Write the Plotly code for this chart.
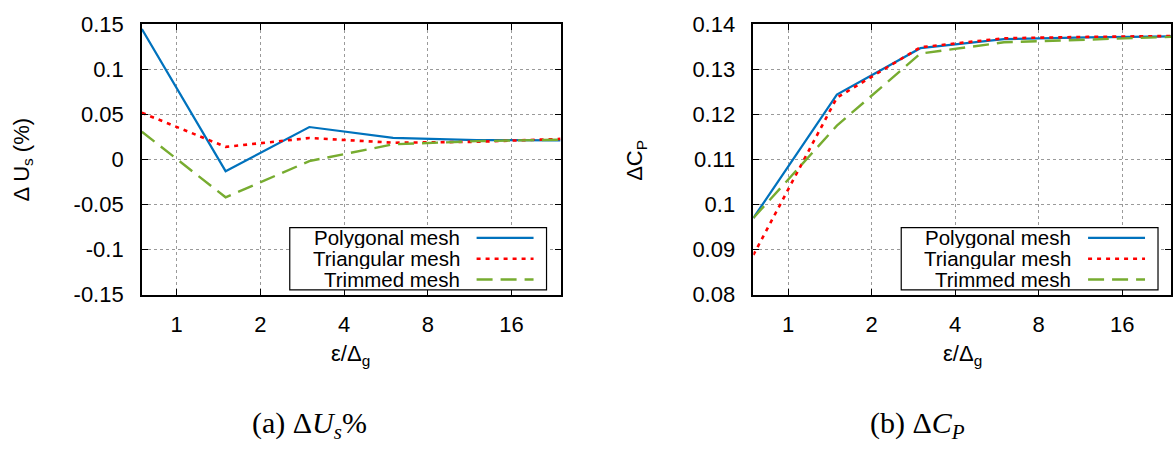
import plotly.graph_objects as go
import math

W, H = 1173, 457

# ---- data ----
x_vals = [0.75, 1.5, 3, 6, 12, 24]
series_names = ["Polygonal mesh", "Triangular mesh", "Trimmed mesh"]

us_polygonal = [0.1447, -0.0130, 0.0360, 0.0240, 0.0215, 0.0212]
us_triangular = [0.0518, 0.0140, 0.0238, 0.0186, 0.0196, 0.0228]
us_trimmed = [0.0308, -0.0420, -0.0018, 0.0168, 0.0203, 0.0220]

cp_polygonal = [0.0970, 0.1244, 0.1347, 0.1367, 0.1371, 0.1373]
cp_triangular = [0.0888, 0.1237, 0.1349, 0.1369, 0.1372, 0.1374]
cp_trimmed = [0.0970, 0.1175, 0.1335, 0.1360, 0.1366, 0.1372]

x_tick_vals = [1, 2, 4, 8, 16]
x_tick_text = ["1", "2", "4", "8", "16"]
us_tick_vals = [-0.15, -0.1, -0.05, 0, 0.05, 0.1, 0.15]
us_tick_text = ["-0.15", "-0.1", "-0.05", "0", "0.05", "0.1", "0.15"]
cp_tick_vals = [0.08, 0.09, 0.10, 0.11, 0.12, 0.13, 0.14]
cp_tick_text = ["0.08", "0.09", "0.1", "0.11", "0.12", "0.13", "0.14"]

# ---- styles ----
colors = ["#0072BD", "#FF0000", "#77AC30"]
dashes = ["solid", "4px,5px", "16px,8px"]
widths = [2.2, 2.6, 2.4]
FONT = "Liberation Sans, Arial, sans-serif"
SERIF = "Liberation Serif, DejaVu Serif, serif"
FS = 22

def px(x):
    return x / W

def py(y):
    return 1 - y / H

fig = go.Figure()

panels = [
    ("x", "y", [us_polygonal, us_triangular, us_trimmed]),
    ("x2", "y2", [cp_polygonal, cp_triangular, cp_trimmed]),
]
for xa, ya, data in panels:
    for name, vals, c, d, w in zip(series_names, data, colors, dashes, widths):
        fig.add_trace(go.Scatter(
            x=x_vals, y=vals, mode="lines", name=name, xaxis=xa, yaxis=ya,
            line=dict(color=c, dash=d, width=w), showlegend=False,
        ))

common_axis = dict(
    showline=True, linecolor="black", linewidth=1.5, mirror="ticks",
    ticks="inside", ticklen=6, tickwidth=1, tickcolor="black",
    showgrid=True, gridcolor="#9a9a9a", gridwidth=1, griddash="dot",
    zeroline=False, tickfont=dict(family=FONT, size=FS, color="black"),
)

xr = [math.log10(0.75), math.log10(24)]
fig.update_layout(
    width=W, height=H, margin=dict(l=0, r=0, t=0, b=0),
    paper_bgcolor="white", plot_bgcolor="white",
    xaxis=dict(domain=[px(142), px(561)], type="log", range=xr,
               tickvals=x_tick_vals, ticktext=x_tick_text, anchor="y",
               ticklabelstandoff=9, **common_axis),
    yaxis=dict(domain=[py(299), py(13)], range=[-0.15, 0.15],
               tickvals=us_tick_vals, ticktext=us_tick_text, anchor="x",
               ticklabelstandoff=12, **common_axis),
    xaxis2=dict(domain=[px(754), px(1172)], type="log", range=xr,
                tickvals=x_tick_vals, ticktext=x_tick_text, anchor="y2",
                ticklabelstandoff=9, **common_axis),
    yaxis2=dict(domain=[py(299), py(13)], range=[0.08, 0.14],
                tickvals=cp_tick_vals, ticktext=cp_tick_text, anchor="x2",
                ticklabelstandoff=12, **common_axis),
)

annotations = []
shapes = []

def ann(text, x, y, size=FS, family=FONT, **kw):
    d = dict(text=text, x=px(x), y=py(y), xref="paper", yref="paper",
             xanchor=kw.pop("xanchor", "center"), yanchor="middle", showarrow=False,
             font=dict(family=family, size=size, color="black"))
    d.update(kw)
    annotations.append(d)

# axis titles
ann("Δ U<sub>s</sub> (%)", 23, 156, textangle=-90)
ann("ΔC<sub>P</sub>", 637, 157, textangle=-90)
for cx in (351, 963):
    ann("ε/Δ<sub>g</sub>", cx, 363)

# captions
ann("(a) Δ<i>U<sub>s</sub></i>%", 310, 437, size=30, family=SERIF)
ann("(b) Δ<i>C<sub>P</sub></i>", 918, 437, size=30, family=SERIF)

# manual legends (text left, sample right, like gnuplot)
for left in (290, 902):
    shapes.append(dict(type="rect", xref="paper", yref="paper",
                       x0=px(left), x1=px(left + 257), y0=py(294), y1=py(228),
                       line=dict(color="black", width=1.2), fillcolor="white", layer="above"))
    for i, (name, c, d, w) in enumerate(zip(series_names, colors, dashes, widths)):
        yy = 239 + 22 * i
        shapes.append(dict(type="line", xref="paper", yref="paper",
                           x0=px(left + 187), x1=px(left + 244), y0=py(yy), y1=py(yy),
                           line=dict(color=c, dash=d, width=w), layer="above"))
        ann(name, left + 172, yy, size=20.5, xanchor="right", height=21, valign="middle")

fig.update_layout(annotations=annotations, shapes=shapes)
fig.write_html("out.html")
